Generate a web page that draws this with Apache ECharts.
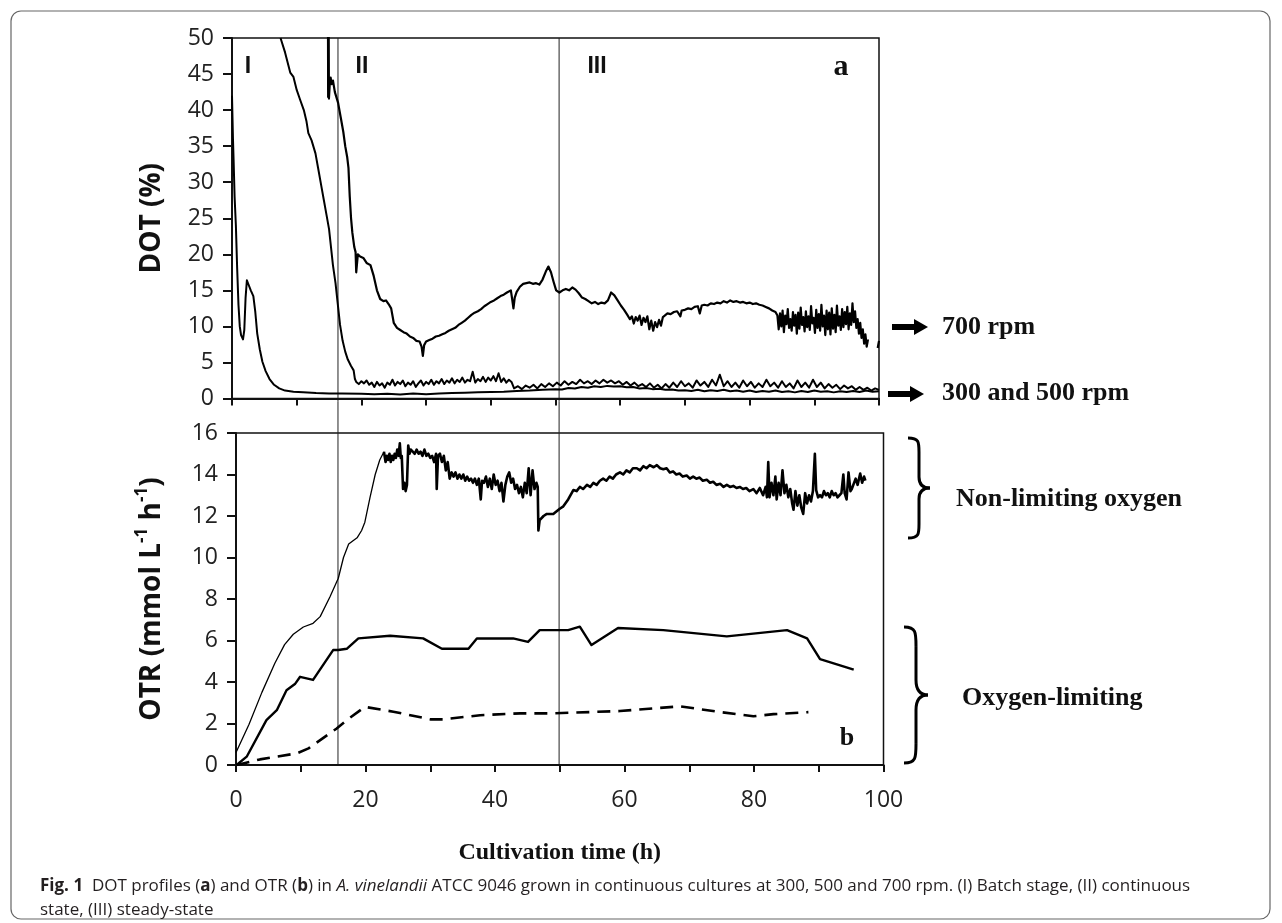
<!DOCTYPE html>
<html><head><meta charset="utf-8">
<script src="https://cdn.jsdelivr.net/npm/echarts@6/dist/echarts.min.js"></script>
<style>html,body{margin:0;padding:0;background:#fff}#c{width:1282px;height:923px}</style>
</head><body><div id="c"></div>
<script>
// ---------- DATA ----------
const xTicks = [0, 20, 40, 60, 80, 100];
const phaseBounds = [15.75, 49.9]; // h, vertical separators I|II|III
const phaseLabels = ['I', 'II', 'III'];

// DOT (%) traces, panel a
const dot300 = [[0,42],[0.15,36],[0.25,33],[0.4,28],[0.6,24],[0.8,18],[1.0,13],[1.2,10],[1.4,8.8],[1.7,8.2],[1.9,9.5],[2.1,14],[2.3,16.4],[2.6,16.2],[2.9,15],[3.3,14.2],[3.6,12],[3.9,9],[4.3,6.8],[4.7,5.1],[5.2,3.8],[5.8,2.7],[6.5,1.9],[7.3,1.4],[8.2,1.1],[9.5,0.95],[11,0.85],[13,0.75],[15,0.7],[17,0.7],[20,0.65],[22,0.6],[24,0.65],[26,0.55],[28,0.7],[30,0.6],[32,0.7],[34,0.75],[36,0.8],[38,0.85],[40,0.9],[42,0.95],[44,1.05],[46,1.1],[48,1.2],[50,1.3],[51,1.25],[52,1.45],[53,1.4],[54,1.6],[55,1.5],[56,1.7],[57,1.6],[58,1.75],[59,1.65],[60,1.7],[61,1.55],[62,1.6],[63,1.4],[64,1.45],[65,1.3],[66,1.35],[67,1.2],[68,1.25],[69,1.1],[70,1.15],[71,1.05],[72,1.2],[73,1.0],[74,1.15],[75,1.05],[76,1.2],[77,1.0],[78,1.1],[79,0.95],[80,1.1],[81,0.9],[82,1.05],[83,0.95],[84,1.1],[85,0.9],[86,1.0],[87,0.85],[88,1.05],[89,0.9],[90,1.1],[91,0.95],[92,1.0],[93,0.85],[94,1.0],[95,0.9],[96,1.05],[97,0.9],[98,1.1],[99,0.95],[100,1.0]];

const dot500 = [[7.5,50],[8.2,48],[9,45.2],[9.5,44.6],[10,42.8],[10.5,41.5],[11.1,40],[11.5,38.5],[11.8,36.8],[12.3,35.8],[12.9,34],[13.3,32],[13.8,29.5],[14.2,27.5],[14.6,25.5],[15.0,23.5],[15.3,21],[15.6,18.5],[16.0,16],[16.3,13.5],[16.7,10.2],[17.1,8],[17.5,6.5],[17.9,5.4],[18.4,4.5],[18.8,3.9],[19.0,2.7],
[19.2,2.3],[19.6,2.0],[20.0,2.4],[20.4,2.1],[20.8,2.5],[21.2,1.9],[21.6,2.2],[22.0,1.6],[22.4,2.3],[22.8,1.8],[23.2,2.1],[23.6,1.5],[24.0,2.2],[24.4,1.9],[24.8,2.6],[25.2,1.8],[25.6,2.3],[26.0,2.0],[26.4,2.5],[26.8,1.7],[27.2,2.2],[27.6,1.9],[28.0,2.4],[28.4,1.6],[28.8,2.1],[29.2,2.5],[29.6,1.8],[30.0,2.3],[30.4,2.0],[30.8,2.6],[31.2,1.9],[31.6,2.4],[32.0,2.1],[32.4,2.7],[32.8,2.0],[33.2,2.5],[33.6,2.2],[34.0,2.8],[34.4,2.1],[34.8,2.6],[35.2,2.3],[35.6,2.9],[36.0,2.2],[36.4,2.6],[36.8,2.4],[37.2,3.7],[37.6,2.2],[38.0,2.7],[38.4,2.4],[38.8,3.0],[39.2,2.3],[39.6,2.9],[40.0,2.5],[40.4,3.1],[40.8,2.4],[41.2,3.5],[41.6,2.3],[42.0,2.8],[42.4,2.2],[42.8,2.6],[43.2,2.3],
[43.6,1.4],[44.2,1.7],[44.8,1.3],[45.4,1.8],[46.0,1.5],[46.6,1.9],[47.2,1.4],[47.8,2.0],[48.4,1.6],[49.0,2.1],[49.6,1.7],[50.2,2.2],[50.8,1.8],[51.4,2.4],[52.0,1.9],[52.6,2.3],[53.2,2.0],[53.8,2.6],[54.4,2.1],[55.0,2.4],[55.6,2.0],[56.2,2.5],[56.8,2.1],[57.4,2.6],[58.0,2.2],[58.6,2.5],[59.2,2.1],[59.8,2.4],[60.4,1.9],[61.0,2.3],[61.6,1.8],[62.2,2.2],[62.8,1.7],[63.4,2.0],[64.0,1.6],[64.6,2.1],[65.2,1.5],[65.8,1.9],[66.4,1.4],[67.0,2.0],[67.6,1.5],[68.2,2.2],[68.8,1.6],[69.4,2.4],[70.0,1.7],[70.6,2.1],[71.2,1.5],[71.8,2.5],[72.4,1.8],[73.0,2.3],[73.6,1.6],[74.2,2.6],[74.8,1.8],[75.4,3.3],[76.0,1.7],[76.6,2.4],[77.2,1.6],[77.8,2.2],[78.4,1.5],[79.0,2.5],[79.6,1.7],[80.2,2.3],[80.8,1.5],[81.4,2.1],[82.0,1.6],[82.6,2.6],[83.2,1.7],[83.8,2.2],[84.4,1.5],[85.0,2.4],[85.6,1.6],[86.2,2.1],[86.8,1.4],[87.4,2.5],[88.0,1.6],[88.6,2.2],[89.2,1.5],[89.8,2.6],[90.4,1.6],[91.0,2.2],[91.6,1.4],[92.2,2.0],[92.8,1.5],[93.4,1.9],[94.0,1.3],[94.6,1.8],[95.2,1.4],[95.8,1.7],[96.4,1.2],[97.0,1.6],[97.6,1.2],[98.2,1.5],[98.8,1.1],[99.4,1.4],[100,1.2]];

const dot700 = [[14.83,55],[14.86,41.8],[14.93,55],[14.98,41.6],[15.1,43.5],[15.25,44.5],[15.4,43.6],[15.6,44.1],[15.9,42.5],[16.4,41],[16.8,39],[17.2,37],[17.5,35],[17.8,33.5],[18.0,32],[18.2,28],[18.4,25],[18.6,23],[18.9,21],[19.1,20.3],[19.2,17.5],[19.35,17.5],[19.45,20],[19.8,19.7],[20.3,19.5],[20.8,18.8],[21.4,18.5],[21.9,17],[22.4,15],[22.9,13.8],[23.4,13.5],[23.8,13.6],[24.2,13.1],[24.6,12.5],[25.0,10.5],[25.5,9.8],[26.0,9.5],[26.5,9.2],[27.0,9.0],[27.5,8.6],[28.0,8.4],[28.5,8.0],[29.0,7.9],[29.3,7.2],[29.5,5.9],[29.7,7.4],[30.0,7.9],[30.5,8.1],[31.0,8.3],[31.5,8.6],[32.0,8.7],[32.5,8.9],[33.0,9.1],[33.5,9.4],[34.0,9.6],[34.5,9.8],[35.0,10.2],[35.5,10.5],[36.0,10.8],[36.5,11.2],[37.0,11.6],[37.5,11.9],[38.0,12.1],[38.5,12.4],[39.0,12.8],[39.5,13.1],[40.0,13.4],[40.5,13.6],[41.0,13.9],[41.5,14.2],[42.0,14.4],[42.5,14.7],[43.1,15.0],[43.3,13.8],[43.5,12.5],[43.7,14.0],[44.0,14.8],[44.5,15.5],[45.0,15.9],[45.5,16.0],[46.0,16.1],[46.5,15.9],[47.0,16.0],[47.5,15.8],[48.0,16.5],[48.5,17.6],[48.9,18.3],[49.3,17.5],[49.7,16.2],[50.1,15.0],[50.6,14.7],[51.1,15.0],[51.6,15.2],[52.1,15.0],[52.6,15.4],[53.1,15.1],[53.6,14.6],[54.1,14.0],[54.6,13.8],[55.1,13.5],[55.6,13.2],[56.1,13.4],[56.6,13.1],[57.1,13.3],[57.6,13.2],[58.1,13.6],[58.6,14.7],[59.1,14.3],[59.6,13.6],[60.1,12.9],[60.6,12.3],[61.1,11.6],[61.5,11.0],[61.8,11.4],[62.1,10.4],[62.4,11.3],[62.7,10.8],[63.0,11.5],[63.3,10.2],[63.6,11.2],[63.9,10.6],[64.2,11.4],[64.5,9.6],[64.8,10.8],[65.1,9.4],[65.4,10.6],[65.7,9.9],[66.0,10.9],[66.3,10.1],[66.6,11.3],[66.9,11.5],[67.3,11.8],[67.8,11.7],[68.3,12.0],[68.8,12.1],[69.3,11.4],[69.5,12.2],[70.0,12.3],[70.5,12.5],[71.0,12.4],[71.5,12.7],[72.0,12.8],[72.3,11.8],[72.6,12.9],[73.0,13.0],[73.5,12.9],[74.0,13.2],[74.5,13.1],[75.0,13.3],[75.5,13.2],[76.0,13.5],[76.5,13.3],[77.0,13.6],[77.5,13.4],[78.0,13.5],[78.5,13.3],[79.0,13.4],[79.5,13.2],[80.0,13.3],[80.5,13.1],[81.0,13.2],[81.5,13.0],[82.0,12.9],[82.5,12.7],[83.0,12.5],[83.5,12.2],[84.0,12.0],[84.3,11.5],
[84.5,9.6],[84.7,11.8],[84.9,10.0],[85.1,12.2],[85.3,9.2],[85.5,11.5],[85.7,10.3],[85.9,12.4],[86.1,9.8],[86.3,11.0],[86.5,9.4],[86.7,12.0],[86.9,10.1],[87.1,11.6],[87.3,9.0],[87.5,11.9],[87.7,9.7],[87.9,12.6],[88.1,10.2],[88.3,11.3],[88.5,9.3],[88.7,12.1],[88.9,9.9],[89.1,11.4],[89.3,9.5],[89.5,12.8],[89.7,10.4],[89.9,11.2],[90.1,9.1],[90.3,12.3],[90.5,9.8],[90.7,11.7],[90.9,9.4],[91.1,13.0],[91.3,10.0],[91.5,11.5],[91.7,8.8],[91.9,12.2],[92.1,9.6],[92.3,11.9],[92.5,8.9],[92.7,12.5],[92.9,9.7],[93.1,11.6],[93.3,9.2],[93.5,12.9],[93.7,10.1],[93.9,11.4],[94.1,9.5],[94.3,12.4],[94.5,9.9],[94.7,12.0],[94.9,10.3],[95.1,12.7],[95.3,9.6],[95.5,11.8],[95.7,10.2],[95.9,13.2],[96.1,10.6],[96.3,12.1],[96.5,9.8],[96.7,11.0],[96.9,9.0],[97.1,10.5],[97.3,8.4],[97.5,9.6],[97.7,7.6],[97.9,8.9],[98.1,7.2],[98.3,8.2],[98.4,null],[99.8,7.0],[100,8.0]];

// OTR (mmol L-1 h-1), panel b
const otr700Rise = [[0,0.6],[2,1.95],[4,3.5],[6,4.9],[7.5,5.8],[8.85,6.3],[10.4,6.65],[11.9,6.83],[13.0,7.15],[14.5,8.1],[15.8,9.0],[16.6,10.0],[17.4,10.65],[18.7,10.95],[19.4,11.3],[19.9,11.7],[20.7,12.9],[21.5,14.0],[22.2,14.7],[22.85,15.1]];
const otr700 = [[22.85,15.1],[23.1,14.6],[23.3,14.9],[23.5,14.7],[23.7,15.0],[23.9,14.6],[24.1,14.9],[24.3,14.7],[24.5,15.0],[24.7,14.8],[24.9,15.2],[25.1,14.9],[25.3,15.5],[25.45,14.8],[25.6,14.9],[25.8,13.3],[26.0,13.6],[26.2,13.2],[26.4,13.5],[26.6,15.4],[26.8,15.0],[27.0,15.2],[27.3,15.1],[27.6,15.0],[27.9,15.2],[28.2,15.0],[28.5,15.1],[28.8,14.9],[29.1,15.2],[29.4,14.9],[29.7,15.0],[30.0,14.8],[30.3,14.9],[30.6,14.6],[30.9,15.0],[31.0,13.3],[31.2,14.9],[31.5,15.0],[31.8,14.6],[32.1,14.9],[32.4,14.2],[32.7,14.6],[33.0,13.8],[33.3,14.1],[33.6,13.9],[33.9,14.1],[34.2,13.8],[34.5,14.0],[34.8,13.8],[35.1,14.0],[35.4,13.7],[35.7,13.9],[36.0,13.7],[36.3,13.8],[36.6,13.6],[36.9,13.8],[37.2,13.5],[37.5,13.8],[37.8,12.8],[38.0,13.7],[38.3,13.6],[38.6,13.9],[38.9,13.4],[39.2,13.8],[39.5,13.3],[39.8,14.0],[40.1,13.5],[40.4,13.7],[40.7,13.2],[41.0,13.6],[41.3,12.7],[41.6,13.5],[41.9,13.9],[42.2,14.1],[42.5,13.6],[42.8,13.8],[43.1,13.3],[43.4,13.5],[43.7,13.1],[44.0,13.4],[44.3,12.9],[44.6,13.6],[44.9,13.1],[45.2,14.3],[45.5,13.0],[45.8,14.2],[46.1,13.3],[46.4,13.6],[46.6,13.4],[46.7,11.3],[46.9,11.8],[47.5,12.0],[48.0,12.1],[49.0,12.1],[50.0,12.35],[50.5,12.45],[51.3,12.8],[52.1,13.25],[52.6,13.2],[53.1,13.4],[53.6,13.3],[54.2,13.5],[54.7,13.4],[55.2,13.6],[55.7,13.5],[56.2,13.7],[56.7,13.8],[57.2,13.7],[57.7,13.9],[58.2,13.8],[58.7,14.0],[59.3,14.1],[59.8,14.0],[60.3,14.2],[60.8,14.1],[61.3,14.3],[61.9,14.3],[62.4,14.2],[62.9,14.4],[63.4,14.3],[63.9,14.45],[64.5,14.35],[65.0,14.45],[65.5,14.3],[66.0,14.25],[66.5,14.3],[67.0,14.1],[67.5,14.15],[68.0,14.0],[68.5,14.05],[69.0,13.9],[69.6,13.95],[70.1,13.8],[70.6,13.9],[71.1,13.8],[71.6,13.85],[72.1,13.7],[72.7,13.75],[73.2,13.6],[73.7,13.65],[74.2,13.5],[74.8,13.55],[75.3,13.4],[75.8,13.5],[76.3,13.4],[76.8,13.45],[77.3,13.35],[77.8,13.4],[78.3,13.3],[78.8,13.35],[79.3,13.2],[79.9,13.3],[80.4,13.1],[80.9,13.35],[81.4,13.0],[81.8,13.4],[82.0,12.9],[82.2,14.6],[82.4,12.9],[82.7,13.6],[83.0,13.0],[83.3,13.9],[83.5,12.8],[83.8,13.6],[84.1,13.0],[84.4,14.2],[84.7,13.1],[85.0,13.5],[85.3,12.9],[85.6,13.3],[85.9,12.6],[86.1,12.3],[86.4,13.2],[86.7,12.5],[87.0,13.0],[87.3,12.4],[87.6,12.1],[87.9,13.1],[88.2,12.6],[88.5,13.0],[88.8,12.7],[89.1,13.2],[89.4,15.0],[89.6,13.25],[89.9,12.9],[90.2,13.0],[90.5,12.9],[90.8,13.2],[91.1,13.0],[91.4,13.1],[91.7,12.9],[92.0,13.2],[92.3,13.0],[92.6,13.1],[92.9,12.9],[93.2,13.0],[93.5,13.1],[93.8,14.0],[94.0,13.1],[94.3,12.8],[94.6,14.1],[94.9,13.2],[95.1,13.3],[95.4,13.25],[95.7,13.8],[96.0,13.5],[96.4,14.05],[96.7,13.6],[97.0,13.9],[97.2,13.7]];
const otr500 = [[0.1,0],[1.65,0.4],[4.7,2.16],[6.3,2.64],[7.8,3.6],[9.1,3.9],[9.9,4.25],[11.9,4.1],[15.0,5.54],[15.8,5.54],[17.1,5.6],[18.9,6.1],[23.8,6.23],[28.9,6.1],[31.8,5.6],[35.9,5.6],[37.2,6.1],[42.8,6.1],[45.1,5.93],[46.9,6.5],[51.3,6.5],[53.1,6.67],[54.9,5.78],[59.0,6.6],[66.0,6.5],[75.8,6.2],[85.1,6.5],[88.2,6.1],[90.2,5.1],[95.4,4.6]];
const otr300 = [[0.1,0],[3.7,0.27],[9.4,0.56],[11.2,0.8],[15.5,1.75],[17.1,2.16],[19.9,2.8],[24.3,2.57],[30.0,2.2],[32.0,2.2],[37.7,2.4],[43.9,2.49],[49.0,2.49],[59.3,2.6],[68.6,2.83],[74.8,2.55],[79.9,2.35],[83.0,2.45],[88.4,2.55]];

// ---------- CHART ----------
const chart = echarts.init(document.getElementById('c'), null, {renderer: 'canvas'});
const tickFont = {fontFamily: 'Open Sans', fontSize: 23, color: '#222'};
const axisCommon = {
  axisLine: {show: true, lineStyle: {color: '#111', width: 2}},
  splitLine: {show: false}
};
const titleFont = {fontFamily: 'Open Sans', fontWeight: 'bold', fontSize: 28, color: '#111'};
function lineS(name, xi, data, w, dash) {
  return {name, type: 'line', xAxisIndex: xi, yAxisIndex: xi, data, symbol: 'none', clip: true,
    connectNulls: false, animation: false,
    lineStyle: {color: '#000', width: w, type: dash || 'solid', cap: 'butt', join: 'round'}};
}
chart.setOption({
  animation: false,
  backgroundColor: '#fff',
  grid: [
    {left: 232, top: 38, width: 647, height: 360.5, show: true, borderColor: '#111', borderWidth: 1.5, containLabel: false},
    {left: 236, top: 433, width: 647.5, height: 332, show: true, borderColor: '#111', borderWidth: 1.5, containLabel: false}
  ],
  xAxis: [
    Object.assign({}, axisCommon, {gridIndex: 0, type: 'value', min: 0, max: 100, interval: 10,
      axisTick: {show: true, inside: false, length: 7, lineStyle: {color: '#111', width: 2}}, axisLabel: {show: false}}),
    Object.assign({}, axisCommon, {gridIndex: 1, type: 'value', min: 0, max: 100, interval: 10,
      axisTick: {show: true, inside: false, length: 7, lineStyle: {color: '#111', width: 2}},
      axisLabel: Object.assign({margin: 24, formatter: v => (xTicks.indexOf(v) >= 0 ? String(v) : '')}, tickFont),
      name: 'Cultivation time (h)', nameLocation: 'middle', nameGap: 76,
      nameTextStyle: {fontFamily: 'Liberation Serif', fontWeight: 'bold', fontSize: 24, color: '#111'}})
  ],
  yAxis: [
    Object.assign({}, axisCommon, {gridIndex: 0, type: 'value', min: 0, max: 50, interval: 5,
      axisTick: {show: true, inside: false, length: 9, lineStyle: {color: '#111', width: 2}},
      axisLabel: Object.assign({margin: 18}, tickFont),
      name: 'DOT (%)', nameLocation: 'middle', nameGap: 66, nameTextStyle: titleFont}),
    Object.assign({}, axisCommon, {gridIndex: 1, type: 'value', min: 0, max: 16, interval: 2,
      axisTick: {show: true, inside: false, length: 9, lineStyle: {color: '#111', width: 2}},
      axisLabel: Object.assign({margin: 18}, tickFont),
      name: 'OTR (mmol L{sup|-1} h{sup|-1})', nameLocation: 'middle', nameGap: 66,
      nameTextStyle: Object.assign({}, titleFont, {lineHeight: 36,
        rich: {sup: {fontFamily: 'Open Sans', fontWeight: 'bold', fontSize: 17, color: '#111', lineHeight: 20, verticalAlign: 'top'}}})})
  ],
  series: [
    lineS('300 rpm', 0, dot300, 2),
    lineS('500 rpm', 0, dot500, 2),
    lineS('700 rpm', 0, dot700, 2.2),
    lineS('700 rpm OTR rise', 1, otr700Rise, 1.3),
    lineS('700 rpm OTR', 1, otr700, 2.6),
    lineS('500 rpm OTR', 1, otr500, 2.4),
    lineS('300 rpm OTR', 1, otr300, 2.6, [13, 8])
  ]
});

// ---------- ANNOTATIONS ----------
function braceEls(x, y, w, h) {
  const m = x + w * 0.5;
  const st = {stroke: '#000', lineWidth: 3, fill: null};
  const bz = (x1, y1, c1x, c1y, c2x, c2y, x2, y2) => ({type: 'bezierCurve', silent: true,
    shape: {x1, y1, cpx1: c1x, cpy1: c1y, cpx2: c2x, cpy2: c2y, x2, y2}, style: st});
  const ln = (x1, y1, x2, y2) => ({type: 'line', silent: true, shape: {x1, y1, x2, y2}, style: st});
  return [
    bz(x, y, x + w * 0.5, y, m, y + h * 0.04, m, y + h * 0.14),
    ln(m, y + h * 0.14, m, y + h * 0.39),
    bz(m, y + h * 0.39, m, y + h * 0.47, x + w * 0.7, y + h * 0.5, x + w, y + h * 0.5),
    bz(x + w, y + h * 0.5, x + w * 0.7, y + h * 0.5, m, y + h * 0.53, m, y + h * 0.61),
    ln(m, y + h * 0.61, m, y + h * 0.86),
    bz(m, y + h * 0.86, m, y + h * 0.96, x + w * 0.5, y + h, x, y + h)
  ];
}
function arrow(x0, x1, y) {
  return {type: 'polygon', silent: true, shape: {points: [
    [x0, y - 3], [x1 - 14, y - 3], [x1 - 14, y - 8], [x1, y], [x1 - 14, y + 8], [x1 - 14, y + 3], [x0, y + 3]]},
    style: {fill: '#000'}};
}
function txt(x, y, text, font, align) {
  return {type: 'text', silent: true, x, y, style: {text, font, fill: '#111', align: align || 'left', verticalAlign: 'middle'}};
}
const serifB = 'bold 26px "Liberation Serif"';
const sansB = 'bold 23px "Liberation Sans"';

function draw() {
  const yTop = chart.convertToPixel({yAxisIndex: 0}, 50);
  const yBot = chart.convertToPixel({yAxisIndex: 1}, 0);
  let els = [];
  phaseBounds.forEach(b => {
    const px = chart.convertToPixel({xAxisIndex: 1}, b);
    els.push({type: 'line', silent: true, shape: {x1: px, y1: yTop, x2: px, y2: yBot}, style: {stroke: '#222', lineWidth: 1}});
  });
  els.push(txt(248, 67, phaseLabels[0], sansB, 'center'));
  els.push(txt(362, 67, phaseLabels[1], sansB, 'center'));
  els.push(txt(597, 67, phaseLabels[2], sansB, 'center'));
  els.push(txt(841, 67, 'a', 'bold 30px "Liberation Serif"', 'center'));
  els.push(txt(847, 738, 'b', 'bold 26px "Liberation Serif"', 'center'));
  els.push(arrow(892, 928, 327));
  els.push(arrow(888, 924, 394));
  els.push(txt(942, 327, '700 rpm', serifB));
  els.push(txt(942, 393, '300 and 500 rpm', serifB));
  els = els.concat(braceEls(908, 438, 22, 100));
  els = els.concat(braceEls(904, 627, 24, 136));
  els.push(txt(956, 499, 'Non-limiting oxygen', serifB));
  els.push(txt(962, 698, 'Oxygen-limiting', serifB));
  // figure frame
  els.push({type: 'rect', silent: true, z: -1, shape: {x: 11, y: 11, width: 1259, height: 908, r: 10}, style: {fill: null, stroke: '#666', lineWidth: 1.2}});
  // caption
  els.push({type: 'text', silent: true, x: 40, y: 886, style: {
    text: '{b|Fig. 1}  DOT profiles ({b|a}) and OTR ({b|b}) in {i|A. vinelandii} ATCC 9046 grown in continuous cultures at 300, 500 and 700 rpm. (I) Batch stage, (II) continuous',
    font: '17px "Open Sans"', fill: '#231f20', verticalAlign: 'middle',
    rich: {b: {fontWeight: 'bold', fontFamily: 'Open Sans', fontSize: 17, fill: '#231f20'}, i: {fontStyle: 'italic', fontFamily: 'Open Sans', fontSize: 17, fill: '#231f20'}}}});
  els.push({type: 'text', silent: true, x: 40, y: 910, style: {text: 'state, (III) steady-state', font: '17px "Open Sans"', fill: '#231f20', verticalAlign: 'middle'}});
  chart.setOption({graphic: {elements: els}});
}
draw();
</script>
</body></html>
